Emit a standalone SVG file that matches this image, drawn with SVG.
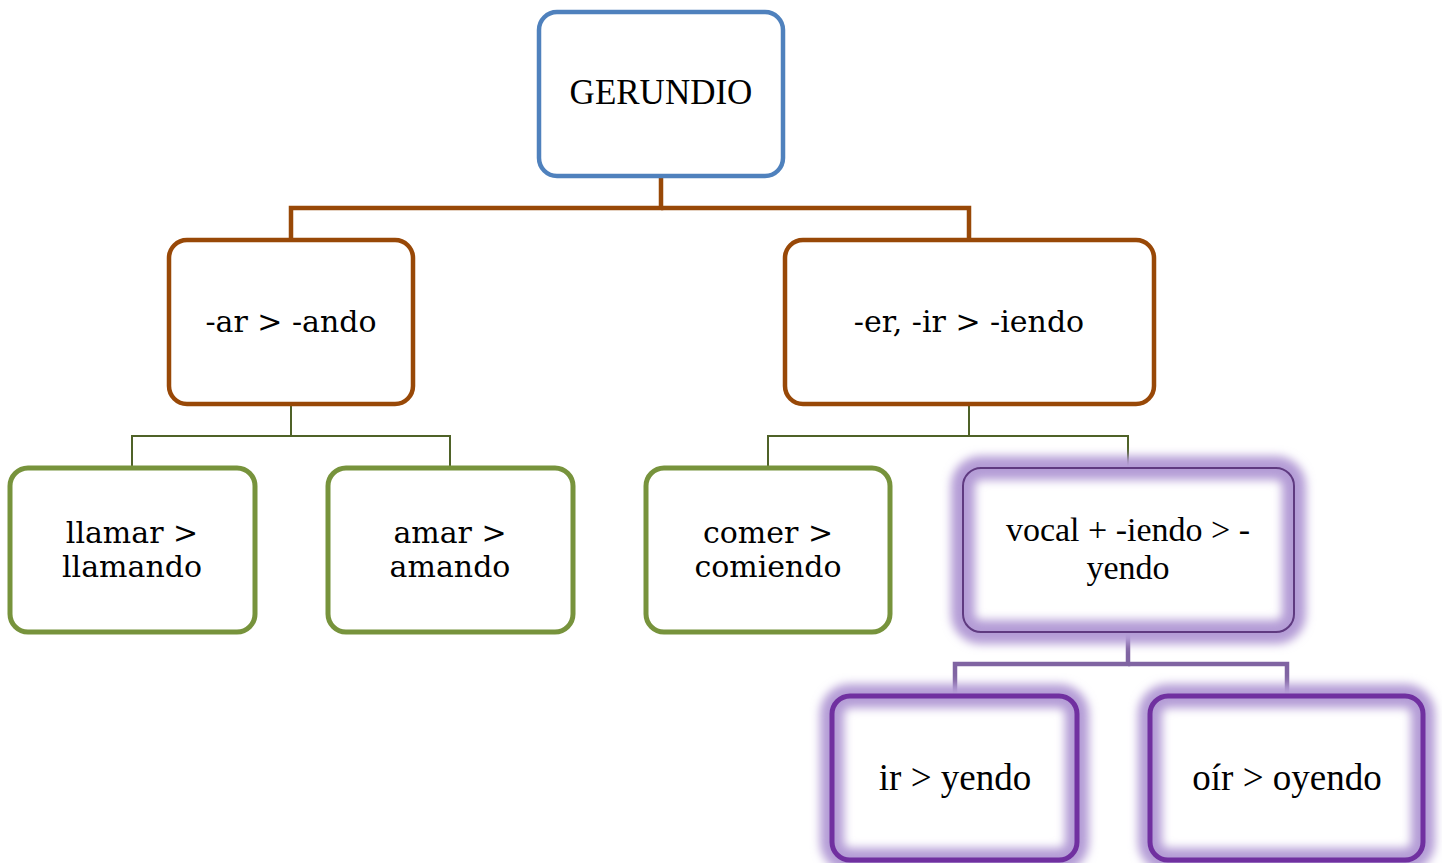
<svg xmlns="http://www.w3.org/2000/svg" width="1442" height="863" viewBox="0 0 1442 863">
  <defs>
    <filter id="glow" x="-20%" y="-20%" width="140%" height="140%">
      <feGaussianBlur stdDeviation="5"/>
    </filter>
    <style>
      .box { fill: #ffffff; }
      .blue { stroke: #4F81BD; stroke-width: 4.5; fill: none; }
      .brown { stroke: #984807; stroke-width: 4.5; fill: none; }
      .green { stroke: #77933C; stroke-width: 5; fill: none; }
      .violet { stroke: #7030A0; stroke-width: 5; fill: none; }
      .violet-thin { stroke: #5F3A80; stroke-width: 2; fill: none; }
      .halo { stroke: #B49CD6; stroke-width: 24; fill: none; filter: url(#glow); }
      .c-brown { stroke: #984807; stroke-width: 4.5; fill: none; }
      .c-green { stroke: #4F6228; stroke-width: 2; fill: none; }
      .c-violet { stroke: #8064A2; stroke-width: 4.5; fill: none; }
      .bk { font-family: "DejaVu Serif", "Liberation Serif", serif; font-size: 30px; fill: #000; text-anchor: middle; }
      .tm { font-family: "Liberation Serif", "DejaVu Serif", serif; font-size: 37px; fill: #000; text-anchor: middle; }
      .tm2 { font-family: "Liberation Serif", "DejaVu Serif", serif; font-size: 34px; fill: #000; text-anchor: middle; }
      .title { font-family: "Liberation Serif", "DejaVu Serif", serif; font-size: 35px; fill: #000; text-anchor: middle; }
    </style>
  </defs>
  <rect width="1442" height="863" fill="#ffffff"/>

  <g id="connectors">
    <polyline class="c-brown" points="661,176 661,208 291,208 291,240"/>
    <polyline class="c-brown" points="661,208 969,208 969,240"/>
    <polyline class="c-green" points="291,404 291,436 132,436 132,468"/>
    <polyline class="c-green" points="291,436 450,436 450,468"/>
    <polyline class="c-green" points="969,404 969,436 768,436 768,468"/>
    <polyline class="c-green" points="969,436 1128,436 1128,468"/>
    <polyline class="c-violet" points="1128,632 1128,664 955,664 955,696"/>
    <polyline class="c-violet" points="1128,664 1287,664 1287,696"/>
  </g>

  <g id="gerundio">
    <rect class="box" x="539" y="12" width="244" height="164" rx="18"/>
    <rect class="blue" x="539" y="12" width="244" height="164" rx="18"/>
    <text class="title" x="661" y="104">GERUNDIO</text>
  </g>

  <g id="ar">
    <rect class="box" x="169" y="240" width="244" height="164" rx="18"/>
    <rect class="brown" x="169" y="240" width="244" height="164" rx="18"/>
    <text class="bk" x="291" y="332">-ar &gt; -ando</text>
  </g>

  <g id="er-ir">
    <rect class="box" x="785" y="240" width="369" height="164" rx="18"/>
    <rect class="brown" x="785" y="240" width="369" height="164" rx="18"/>
    <text class="bk" x="969" y="332">-er, -ir &gt; -iendo</text>
  </g>

  <g id="llamar">
    <rect class="box" x="10" y="468" width="245" height="164" rx="18"/>
    <rect class="green" x="10" y="468" width="245" height="164" rx="18"/>
    <text class="bk" x="132" y="543">llamar &gt;</text>
    <text class="bk" x="132" y="577">llamando</text>
  </g>

  <g id="amar">
    <rect class="box" x="328" y="468" width="245" height="164" rx="18"/>
    <rect class="green" x="328" y="468" width="245" height="164" rx="18"/>
    <text class="bk" x="450" y="543">amar &gt;</text>
    <text class="bk" x="450" y="577">amando</text>
  </g>

  <g id="comer">
    <rect class="box" x="646" y="468" width="244" height="164" rx="18"/>
    <rect class="green" x="646" y="468" width="244" height="164" rx="18"/>
    <text class="bk" x="768" y="543">comer &gt;</text>
    <text class="bk" x="768" y="577">comiendo</text>
  </g>

  <g id="vocal">
    <rect class="box" x="963" y="468" width="331" height="164" rx="18"/>
    <rect class="halo" x="963" y="468" width="331" height="164" rx="18"/>
    <rect class="violet-thin" x="963" y="468" width="331" height="164" rx="18"/>
    <text class="tm2" x="1128" y="541">vocal + -iendo &gt; -</text>
    <text class="tm2" x="1128" y="579">yendo</text>
  </g>

  <g id="ir">
    <rect class="box" x="832" y="696" width="245" height="164" rx="18"/>
    <rect class="halo" x="832" y="696" width="245" height="164" rx="18"/>
    <rect class="violet" x="832" y="696" width="245" height="164" rx="18"/>
    <text class="tm" x="955" y="790">ir &gt; yendo</text>
  </g>

  <g id="oir">
    <rect class="box" x="1150" y="696" width="273" height="164" rx="18"/>
    <rect class="halo" x="1150" y="696" width="273" height="164" rx="18"/>
    <rect class="violet" x="1150" y="696" width="273" height="164" rx="18"/>
    <text class="tm" x="1287" y="790">oír &gt; oyendo</text>
  </g>
</svg>
